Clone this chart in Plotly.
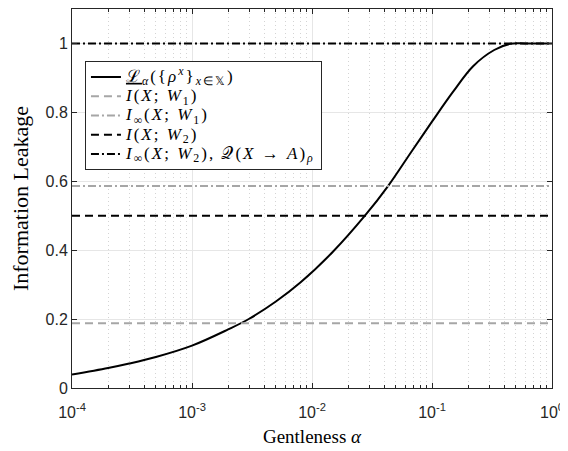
import plotly.graph_objects as go

# Data
alpha = [1e-4, 2e-4, 3e-4, 5e-4, 1e-3, 2e-3, 3e-3, 5e-3, 8e-3, 1.5e-2,
         2.76e-2, 4.3e-2, 6.8e-2, 0.1, 0.15, 0.22, 0.33, 0.45, 0.6, 1.0]
leakage = [0.039, 0.058, 0.071, 0.090, 0.123, 0.170, 0.201, 0.251, 0.306, 0.396,
           0.500, 0.586, 0.688, 0.773, 0.860, 0.934, 0.981, 0.999, 1.0, 1.0]

x_span = [1e-4, 1.0]
I_W1 = 0.188
Iinf_W1 = 0.586
I_W2 = 0.5
Iinf_W2 = 1.0

x_tickvals = [1e-4, 1e-3, 1e-2, 1e-1, 1e0]
x_ticktext = ["10<sup>-4</sup>", "10<sup>-3</sup>", "10<sup>-2</sup>", "10<sup>-1</sup>", "10<sup>0</sup>"]
x_minor = [k * 10.0 ** e for e in range(-4, 0) for k in range(2, 10)]
y_tickvals = [0, 0.2, 0.4, 0.6, 0.8, 1.0]
y_ticktext = ["0", "0.2", "0.4", "0.6", "0.8", "1"]

names = [
    "<u>ℒ</u><sub><i>α</i></sub>({<i>ρ</i><sup><i>x</i></sup>}<sub><i>x</i>∈𝕏</sub>)",
    "<i>I</i>(<i>X</i>; <i>W</i><sub>1</sub>)",
    "<i>I</i><sub>∞</sub>(<i>X</i>; <i>W</i><sub>1</sub>)",
    "<i>I</i>(<i>X</i>; <i>W</i><sub>2</sub>)",
    "<i>I</i><sub>∞</sub>(<i>X</i>; <i>W</i><sub>2</sub>), 𝒬(<i>X</i> → <i>A</i>)<sub><i>ρ</i></sub>",
]


def legend_label(s):
    # larger glyphs inside a tightly spaced legend, like the reference
    return '<span style="font-size:17px;letter-spacing:2px">' + s + '</span>'


gray = "#a6a6a6"
fig = go.Figure()
fig.add_trace(go.Scatter(x=alpha, y=leakage, mode="lines", name=legend_label(names[0]),
                         line=dict(color="black", width=2, shape="spline", smoothing=1.0)))
fig.add_trace(go.Scatter(x=x_span, y=[I_W1, I_W1], mode="lines", name=legend_label(names[1]),
                         line=dict(color=gray, width=2, dash="8px,5px")))
fig.add_trace(go.Scatter(x=x_span, y=[Iinf_W1, Iinf_W1], mode="lines", name=legend_label(names[2]),
                         line=dict(color=gray, width=2, dash="8px,3px,2px,3px")))
fig.add_trace(go.Scatter(x=x_span, y=[I_W2, I_W2], mode="lines", name=legend_label(names[3]),
                         line=dict(color="black", width=2, dash="8px,5px")))
fig.add_trace(go.Scatter(x=x_span, y=[Iinf_W2, Iinf_W2], mode="lines", name=legend_label(names[4]),
                         line=dict(color="black", width=2, dash="8px,3px,2px,3px")))

axis_common = dict(showline=True, linecolor="#262626", linewidth=1, mirror="ticks",
                   ticks="inside", ticklen=5, tickcolor="#262626",
                   showgrid=True, gridcolor="#e6e6e6", gridwidth=1, zeroline=False,
                   tickfont=dict(family="Liberation Sans, Arial", size=16, color="#262626"))

fig.update_xaxes(type="log", range=[-4, 0], tickmode="array", tickvals=x_tickvals,
                 ticktext=x_ticktext, ticklabelstandoff=10, ticklabeloverflow="allow",
                 minor=dict(tickmode="array", tickvals=x_minor, ticks="inside", ticklen=3,
                            tickcolor="#262626", showgrid=True, gridcolor="#d4d4d4",
                            griddash="1px,3px", gridwidth=1),
                 title=dict(text="Gentleness <i>α</i>", standoff=9,
                            font=dict(family="Liberation Serif, Times New Roman", size=19, color="black")),
                 **axis_common)
fig.update_yaxes(range=[0, 1.1], tickmode="array", tickvals=y_tickvals, ticktext=y_ticktext,
                 title=dict(text="Information Leakage", standoff=12,
                            font=dict(family="Liberation Serif, Times New Roman", size=22, color="black")),
                 **axis_common)

# page body adds an 8px offset; size the figure so the plot lands where the reference has it
fig.update_layout(
    width=560, height=443,
    margin=dict(l=63.5, r=16.3, t=0.7, b=62.7),
    paper_bgcolor="white", plot_bgcolor="white",
    showlegend=True,
    legend=dict(x=0.027, y=0.862, xanchor="left", yanchor="top",
                bgcolor="white", bordercolor="#262626", borderwidth=1,
                font=dict(family="Liberation Serif, Times New Roman", size=12.5, color="black"),
                tracegroupgap=0, itemwidth=30),
)

fig.write_html("out.html")
